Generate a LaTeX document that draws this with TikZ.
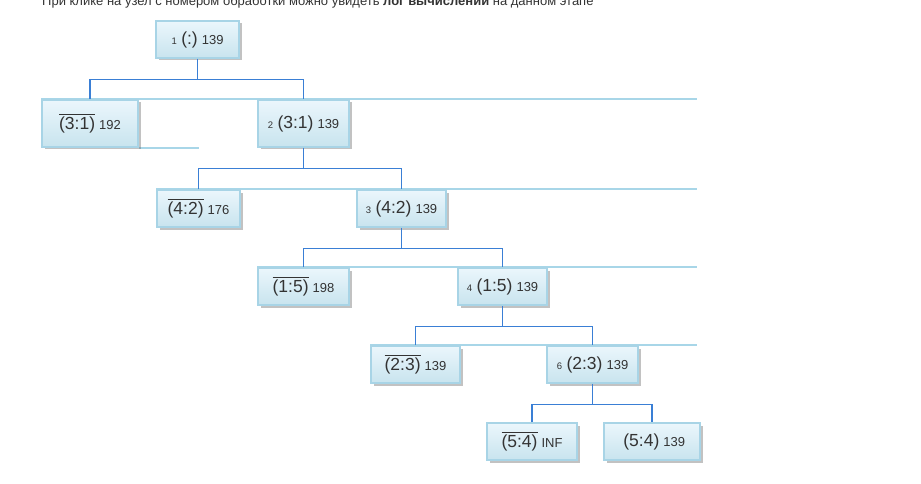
\documentclass[tikz,border=0pt]{standalone}
\usepackage{fontspec}
\setmainfont{Liberation Sans}
\usetikzlibrary{positioning,calc,shadows,backgrounds}
\definecolor{boxline}{HTML}{A8D4E6}
\definecolor{boxtop}{HTML}{EBF6FC}
\definecolor{boxbot}{HTML}{C8E4EE}
\definecolor{wireblue}{HTML}{3A7FD5}
\definecolor{rulecol}{HTML}{A8D6E8}
\definecolor{ink}{HTML}{333333}
\newcommand{\stp}[3]{{\fontsize{9.5}{10}\selectfont #1}\hspace{4.5pt}{\fontsize{17.5}{19}\selectfont (#2)}\hspace{4pt}{\fontsize{13}{14}\selectfont #3}}
\newcommand{\nstp}[2]{\vbox{\hrule height 0.9pt \kern 1.6pt \hbox{\fontsize{17.5}{19}\selectfont (#1)}}\hspace{4pt}{\fontsize{13}{14}\selectfont #2}}
\tikzstyle{stepbox} = [rectangle, draw=boxline, line width=1.5pt, top color=boxtop, bottom color=boxbot, text=ink, text centered, minimum height=37pt, inner sep=2pt, drop shadow={shadow xshift=2.5pt, shadow yshift=-2.5pt, opacity=0.4, fill=black!60}]
\tikzstyle{tall} = [minimum height=47pt]
\tikzstyle{wire} = [draw=wireblue, line width=1.3pt]
\tikzstyle{tablerule} = [draw=rulecol, line width=2pt]

\begin{document}
\begin{tikzpicture}[x=1pt, y=1pt, node distance=78pt]
    \useasboundingbox (0,0) rectangle (921,-484);
    \node (hint) [anchor=base west, text=ink, inner sep=0pt, font=\fontsize{13}{15}\selectfont] at (42,-5.5) {При клике на узел с номером обработки можно увидеть \textbf{лог вычислений} на данном этапе};
    \node (n1) [stepbox, minimum width=83pt] at (197.5,-39.5) {\stp{1}{:}{139}};
    \node (n3bar) [stepbox, tall, minimum width=96pt, below of = n1, xshift=-107.5pt, yshift=-6pt] {\nstp{3:1}{192}};
    \node (n2) [stepbox, tall, minimum width=91pt, below of = n1, xshift=106pt, yshift=-6pt] {\stp{2}{3:1}{139}};
    \node (n4bar) [stepbox, minimum width=83pt, below of = n2, xshift=-105pt, yshift=-7pt] {\nstp{4:2}{176}};
    \node (n3) [stepbox, minimum width=89pt, below of = n2, xshift=98pt, yshift=-7pt] {\stp{3}{4:2}{139}};
    \node (n1bar) [stepbox, minimum width=91pt, below of = n3, xshift=-98pt] {\nstp{1:5}{198}};
    \node (n4) [stepbox, minimum width=89pt, below of = n3, xshift=101pt] {\stp{4}{1:5}{139}};
    \node (n2bar) [stepbox, minimum width=89pt, below of = n4, xshift=-87pt] {\nstp{2:3}{139}};
    \node (n6) [stepbox, minimum width=91pt, below of = n4, xshift=90pt] {\stp{6}{2:3}{139}};
    \node (n5bar) [stepbox, minimum width=90pt, below of = n6, xshift=-60.5pt, yshift=1pt] {\nstp{5:4}{INF}};
    \node (n5) [stepbox, minimum width=96pt, below of = n6, xshift=59.5pt, yshift=1pt] {\stp{}{5:4}{139}};
    % tree links
    \foreach \p/\a/\b in {n1/n3bar/n2, n2/n4bar/n3, n3/n1bar/n4, n4/n2bar/n6, n6/n5bar/n5} {
        \draw [wire] (\p.south) -- ++(0,-21);
        \draw [wire] (\a.north) |- ($(\p.south)+(0,-21)$) -| (\b.north);
    }
    % table rules
    \coordinate (rim) at (697,0);
    \begin{scope}[on background layer]
        \draw [tablerule] (n3bar.north west) -- (n3bar.north west -| rim);
        \draw [tablerule] (n3bar.south east) -- (n3bar.south east -| n4bar.north);
        \draw [tablerule] (n4bar.north west) -- (n4bar.north west -| rim);
        \draw [tablerule] (n1bar.north west) -- (n1bar.north west -| rim);
        \draw [tablerule] (n2bar.north west) -- (n2bar.north west -| rim);
    \end{scope}
\end{tikzpicture}
\end{document}
